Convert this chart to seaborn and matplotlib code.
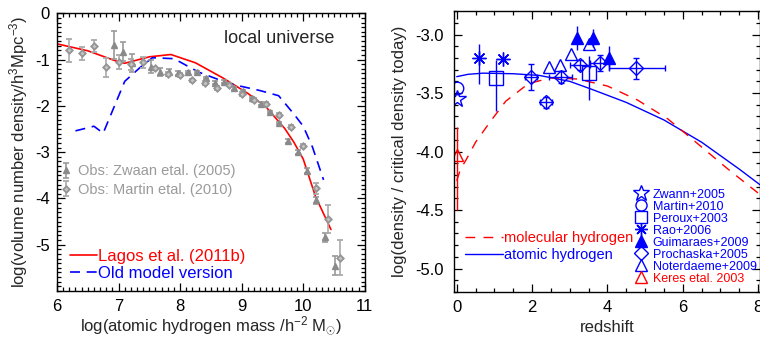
import numpy as np
import pandas as pd
import matplotlib
matplotlib.use('Agg')
import matplotlib.pyplot as plt
import seaborn as sns
from matplotlib.ticker import MultipleLocator, FormatStrFormatter
from matplotlib.lines import Line2D

# ---------------- left panel data ----------------
lagos_x = [6.0, 6.5, 7.0, 7.1, 7.5, 7.85, 8.25, 8.7, 9.1, 9.4, 9.7, 9.85, 10.0, 10.2, 10.45]
lagos_y = [-0.66, -0.81, -1.05, -1.08, -0.94, -0.89, -1.07, -1.40, -1.73, -2.03, -2.49, -2.79, -3.15, -3.96, -4.67]

old_x = [6.3, 6.6, 6.75, 7.1, 7.35, 7.55, 7.9, 8.3, 8.8, 9.3, 9.6, 9.85, 10.0, 10.15, 10.33]
old_y = [-2.54, -2.44, -2.59, -1.47, -1.17, -0.96, -0.98, -1.27, -1.52, -1.67, -1.78, -2.18, -2.44, -2.89, -3.60]

zw_x = [6.92, 7.07, 7.22, 7.52, 7.67, 7.82, 7.97, 8.12, 8.27, 8.42, 8.57, 8.72, 8.87, 9.02,
        9.17, 9.31, 9.46, 9.61, 9.76, 9.91, 10.06, 10.21, 10.36, 10.51]
zw_y = [-0.68, -0.83, -1.07, -1.15, -1.27, -1.26, -1.29, -1.27, -1.27, -1.40, -1.50, -1.48, -1.62, -1.68,
        -1.83, -1.95, -2.13, -2.37, -2.76, -2.99, -3.40, -4.04, -4.84, -5.45]
zw_err = [0.30, 0.20, 0.20, 0.15, 0.08, 0.05, 0.04, 0.03, 0.03, 0.03, 0.03, 0.03, 0.03, 0.03,
          0.03, 0.03, 0.03, 0.03, 0.04, 0.04, 0.05, 0.07, 0.10, 0.20]

ma_x = [6.2, 6.4, 6.6, 6.8, 7.0, 7.2, 7.4, 7.6, 7.8, 8.0, 8.2, 8.4, 8.6, 8.8, 9.0, 9.2, 9.4, 9.6,
        9.8, 10.0, 10.2, 10.4, 10.6]
ma_y = [-0.80, -0.86, -0.70, -1.17, -1.06, -1.10, -1.06, -1.19, -1.31, -1.33, -1.45, -1.50, -1.61,
        -1.54, -1.74, -1.87, -1.96, -2.20, -2.46, -2.87, -3.78, -4.44, -5.28]
ma_err = [0.25, 0.14, 0.13, 0.20, 0.15, 0.12, 0.12, 0.04, 0.04, 0.04, 0.04, 0.04, 0.04, 0.04, 0.04,
          0.04, 0.04, 0.04, 0.04, 0.05, 0.12, 0.30, 0.38]

# ---------------- right panel data ----------------
atomic_z = [0.0, 0.3, 0.7, 1.5, 2.2, 3.0, 3.6, 4.5, 5.5, 6.5, 7.5, 8.2]
atomic_v = [-3.36, -3.34, -3.33, -3.335, -3.35, -3.40, -3.47, -3.58, -3.73, -3.92, -4.15, -4.32]

mol_z = [0.0, 0.1, 0.25, 0.5, 0.9, 1.3, 1.9, 2.5, 3.2, 4.0, 4.8, 5.6, 6.2, 7.2, 8.1]
mol_v = [-4.25, -4.15, -4.07, -3.92, -3.74, -3.57, -3.42, -3.37, -3.38, -3.44, -3.56, -3.72, -3.88, -4.15, -4.38]

zwann_z, zwann_v = [0.0], [-3.55]
martin_z, martin_v = [0.0], [-3.46]
peroux_z, peroux_v = [1.03, 3.52], [-3.37, -3.33]
peroux_lo, peroux_hi = [0.28, 0.23], [0.15, 0.15]
rao_z, rao_v = [0.6, 1.24], [-3.20, -3.21]
rao_lo, rao_hi = [0.22, 0.02], [0.12, 0.02]
guim_z, guim_v = [3.18, 3.62, 4.05], [-3.03, -3.03, -3.20]
guim_err = [0.10, 0.08, 0.10]
proch_z = [1.97, 2.37, 2.76, 3.27, 3.79, 4.76]
proch_v = [-3.36, -3.58, -3.36, -3.26, -3.245, -3.29]
proch_xlo = [0.17, 0.16, 0.30, 0.26, 0.26, 0.71]
proch_xhi = [0.17, 0.16, 0.30, 0.26, 0.26, 0.77]
proch_yerr = [0.11, 0.05, 0.05, 0.04, 0.07, 0.09]
noter_z, noter_v = [2.46, 2.75, 3.03, 3.50], [-3.28, -3.26, -3.17, -3.08]
keres_z, keres_v = [0.0], [-4.03]
keres_lo, keres_hi = [0.47], [0.24]

# ---------------- style ----------------
sns.set_style('ticks')
plt.rcParams['font.family'] = ['Liberation Sans', 'DejaVu Sans']
plt.rcParams['mathtext.fontset'] = 'custom'
plt.rcParams['mathtext.rm'] = 'Liberation Sans'
plt.rcParams['mathtext.it'] = 'Liberation Sans:italic'
plt.rcParams['mathtext.bf'] = 'Liberation Sans:bold'
plt.rcParams['axes.unicode_minus'] = False

GRAY = '#9a9a9a'
RED = '#ff0000'
BLUE = '#0000ff'

fig = plt.figure(figsize=(7.6, 3.37), dpi=100)
ax1 = fig.add_axes([0.075, 0.1365, 0.405, 0.824])
ax2 = fig.add_axes([0.597, 0.1335, 0.403, 0.8335])

for ax in (ax1, ax2):
    for s in ax.spines.values():
        s.set_linewidth(1.0)
        s.set_color('black')
    ax.tick_params(which='both', direction='in', top=True, right=True, colors='black',
                   labelsize=12, width=0.9)
    ax.tick_params(which='major', length=6)
    ax.tick_params(which='minor', length=3)
    ax.tick_params(axis='x', which='major', pad=6)

ax1.tick_params(axis='y', which='major', pad=5)
ax2.tick_params(axis='y', which='major', pad=7)

# ---------------- left panel ----------------
df_lagos = pd.DataFrame({'m': lagos_x, 'n': lagos_y})
df_old = pd.DataFrame({'m': old_x, 'n': old_y})
sns.lineplot(data=df_lagos, x='m', y='n', ax=ax1, color=RED, lw=1.2, sort=False, estimator=None)
sns.lineplot(data=df_old, x='m', y='n', ax=ax1, color=BLUE, lw=1.2, sort=False, estimator=None)
ax1.lines[-1].set_dashes([6, 4])

eb_zw = ax1.errorbar(zw_x, zw_y, yerr=zw_err, fmt='^', ms=5, color=GRAY, mfc='#8a8a8a', mec='#8a8a8a',
                     ecolor=GRAY, elinewidth=1.2, capsize=2, capthick=1.2,
                     label='Obs: Zwaan etal. (2005)', zorder=3)
eb_ma = ax1.errorbar(ma_x, ma_y, yerr=ma_err, fmt='D', ms=3.3, color=GRAY, mfc='#c4c4c4', mec='#949494',
                     mew=1.3, ecolor='#aaaaaa', elinewidth=1.2, capsize=2, capthick=1.2,
                     label='Obs: Martin etal. (2010)', zorder=3)

ax1.set_xlim(6, 11)
ax1.set_ylim(-6, 0)
ax1.xaxis.set_major_locator(MultipleLocator(1))
ax1.xaxis.set_minor_locator(MultipleLocator(0.1))
ax1.yaxis.set_major_locator(MultipleLocator(1))
ax1.yaxis.set_minor_locator(MultipleLocator(0.1))
ax1.yaxis.set_major_formatter(FormatStrFormatter('%d'))
ax1.set_yticks([0, -1, -2, -3, -4, -5])
ax1.set_xlabel(r'log(atomic hydrogen mass /h$^{-2}$ M$_{\odot}$)', fontsize=12, labelpad=0)
ax1.set_ylabel(r'log(volume number density/h$^3$Mpc$^{-3}$)', fontsize=12, labelpad=4)
ax1.text(0.542, 0.91, 'local universe', transform=ax1.transAxes, fontsize=13, ha='left', va='center')

leg_obs = fig.legend(handles=[eb_zw, eb_ma], loc='upper left', bbox_to_anchor=(0.079, 0.512),
                     frameon=False, fontsize=10.5, handlelength=0.8, handletextpad=0.4,
                     labelspacing=0.3, borderpad=0, borderaxespad=0, labelcolor=[GRAY, GRAY])
h_lagos = Line2D([], [], color=RED, lw=1.2)
h_old = Line2D([], [], color=BLUE, lw=1.2, dashes=[6, 4])
leg_mod = fig.legend(handles=[h_lagos, h_old], labels=['Lagos et al. (2011b)', 'Old model version'],
                     loc='upper left', bbox_to_anchor=(0.092, 0.262), frameon=False, fontsize=12,
                     handlelength=1.6, handletextpad=0.1, labelspacing=0.12, borderpad=0,
                     borderaxespad=0, labelcolor=[RED, BLUE])

# ---------------- right panel ----------------
df_at = pd.DataFrame({'z': atomic_z, 'v': atomic_v})
df_mol = pd.DataFrame({'z': mol_z, 'v': mol_v})
sns.lineplot(data=df_at, x='z', y='v', ax=ax2, color=BLUE, lw=1.0, sort=False, estimator=None)
sns.lineplot(data=df_mol, x='z', y='v', ax=ax2, color=RED, lw=1.0, sort=False, estimator=None)
ax2.lines[-1].set_dashes([7, 6])

ax2.errorbar(keres_z, keres_v, yerr=[keres_lo, keres_hi], fmt='^', ms=9, mfc='none', mec=RED,
             ecolor=RED, elinewidth=1.0, mew=1.0)
ax2.plot(zwann_z, zwann_v, '*', ms=13, mfc='none', mec=BLUE, mew=1.0)
ax2.plot(martin_z, martin_v, 'o', ms=9, mfc='none', mec=BLUE, mew=1.0)
ax2.errorbar(peroux_z, peroux_v, yerr=[peroux_lo, peroux_hi], fmt='s', ms=10, mfc='none', mec=BLUE,
             ecolor=BLUE, elinewidth=1.0, mew=1.0)
ax2.errorbar(rao_z, rao_v, yerr=[rao_lo, rao_hi], fmt='none', ecolor=BLUE, elinewidth=1.0)
ax2.plot(rao_z, rao_v, marker=(8, 2, 0), ms=10, ls='none', mec=BLUE, mew=1.0)
ax2.errorbar(guim_z, guim_v, yerr=guim_err, fmt='^', ms=8, mfc=BLUE, mec=BLUE, ecolor=BLUE,
             elinewidth=1.0)
ax2.errorbar(proch_z, proch_v, xerr=[proch_xlo, proch_xhi], yerr=proch_yerr, fmt='D', ms=7, mfc='none',
             mec=BLUE, ecolor=BLUE, elinewidth=1.0, capsize=2, mew=1.0)
ax2.plot(noter_z, noter_v, '^', ms=9, mfc='none', mec=BLUE, mew=1.0, ls='none')

ax2.set_xlim(-0.08, 8.05)
ax2.set_ylim(-5.2, -2.8)
ax2.xaxis.set_major_locator(MultipleLocator(2))
ax2.xaxis.set_minor_locator(MultipleLocator(0.5))
ax2.yaxis.set_major_locator(MultipleLocator(0.5))
ax2.yaxis.set_minor_locator(MultipleLocator(0.1))
ax2.yaxis.set_major_formatter(FormatStrFormatter('%.1f'))
ax2.set_xlabel('redshift', fontsize=12, labelpad=3)
ax2.set_ylabel('log(density / critical density today)', fontsize=12, labelpad=6)

h_mol = Line2D([], [], color=RED, lw=1.0, dashes=[7, 6])
h_at = Line2D([], [], color=BLUE, lw=1.0)
ax2.legend(handles=[h_mol, h_at], labels=['molecular hydrogen', 'atomic hydrogen'],
           loc='upper left', bbox_to_anchor=(0.612, 0.315), bbox_transform=fig.transFigure,
           frameon=False, fontsize=10.5, handlelength=2.6, handletextpad=0.1, labelspacing=0.25,
           borderpad=0, borderaxespad=0, labelcolor=[RED, BLUE])

mk = dict(ls='none', mew=1.0)
obs_handles = [
    Line2D([], [], marker='*', ms=12, mfc='none', mec=BLUE, **mk),
    Line2D([], [], marker='o', ms=8, mfc='none', mec=BLUE, **mk),
    Line2D([], [], marker='s', ms=8, mfc='none', mec=BLUE, **mk),
    Line2D([], [], marker=(8, 2, 0), ms=9, mec=BLUE, **mk),
    Line2D([], [], marker='^', ms=8, mfc=BLUE, mec=BLUE, **mk),
    Line2D([], [], marker='D', ms=7, mfc='none', mec=BLUE, **mk),
    Line2D([], [], marker='^', ms=8, mfc='none', mec=BLUE, **mk),
    Line2D([], [], marker='^', ms=8, mfc='none', mec=RED, **mk),
]
obs_labels = ['Zwann+2005', 'Martin+2010', 'Peroux+2003', 'Rao+2006', 'Guimaraes+2009',
              'Prochaska+2005', 'Noterdaeme+2009', 'Keres etal. 2003']
fig.legend(handles=obs_handles, labels=obs_labels, loc='upper left', bbox_to_anchor=(0.834, 0.44),
           frameon=False, fontsize=9, handlelength=1.2, handletextpad=0.3, labelspacing=0.0,
           borderpad=0, borderaxespad=0, labelcolor=[BLUE] * 7 + [RED])

fig.savefig('out.png', dpi=100)
